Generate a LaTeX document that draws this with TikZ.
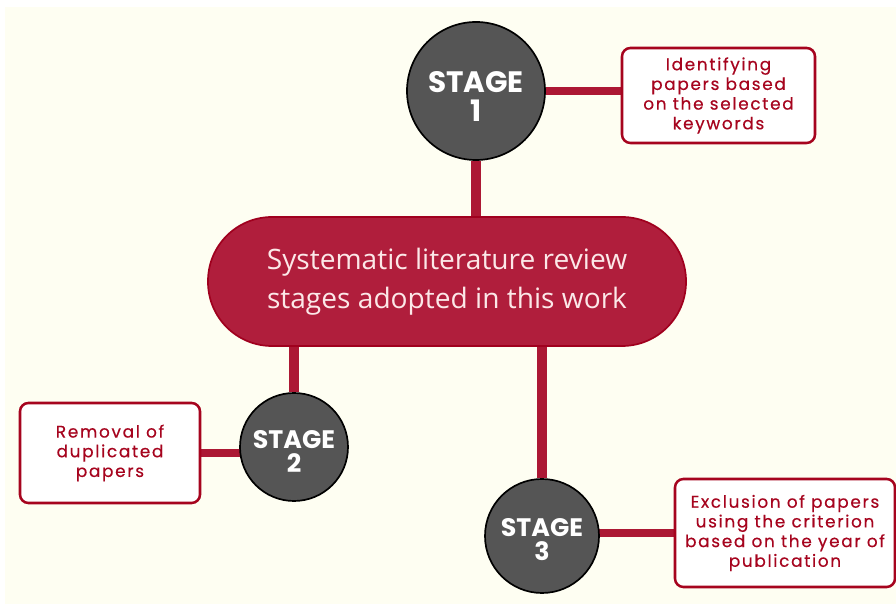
\documentclass[tikz,border=0pt]{standalone}
\usepackage{fontspec}
\setmainfont{Open Sans}
\newfontfamily\stagefont{Poppins}
\newfontfamily\boxfont{Poppins}[LetterSpace=10,FakeBold=0.4]
\usetikzlibrary{backgrounds}
\definecolor{cream}{RGB}{254,254,242}
\definecolor{pillred}{RGB}{176,30,60}
\definecolor{pilledge}{RGB}{160,0,30}
\definecolor{linkred}{RGB}{172,24,52}
\definecolor{boxred}{RGB}{166,4,30}
\definecolor{stagegray}{RGB}{85,85,85}
\definecolor{pilltext}{RGB}{252,232,232}
\newcommand{\stagelabel}[2]{\rule{0pt}{#1}STAGE\\#2}

\begin{document}
\begin{tikzpicture}[
    stage/.style={circle, draw=black, line width=1.2pt, fill=stagegray, text=white,
        font=\stagefont\bfseries\fontsize{18}{17}\selectfont, align=center, inner sep=0pt},
    stepbox/.style={draw=boxred, line width=1.8pt, fill=white, rounded corners=6pt,
        text=boxred, font=\boxfont\fontsize{12}{14}\selectfont, align=center},
    link/.style={draw=linkred, line width=5.7pt},
    trunk/.style={draw=linkred, line width=7pt}]
    \useasboundingbox (0,0) rectangle (22.4,15.1);

    \node[stage, minimum size=3.45cm, font=\stagefont\bfseries\fontsize{21}{21}\selectfont]
        (stage1) at (11.9,12.825) {\stagelabel{23pt}{1}};
    \node[stepbox, minimum width=4.825cm, minimum height=2.375cm] (keywords) at (17.9625,12.7125)
        {Identifying\\papers based\\on the selected\\keywords};
    \node[draw=pilledge, line width=1.2pt, fill=pillred, text=pilltext, rounded corners=1.6cm,
        minimum width=11.95cm, minimum height=3.225cm, align=center,
        font=\fontsize{20}{28}\selectfont] (review) at (11.175,8.0625)
        {Systematic literature review\\stages adopted in this work};
    \node[stage, minimum size=2.7cm] (stage2) at (7.35,3.925) {\stagelabel{19.5pt}{2}};
    \node[stepbox, minimum width=4.5cm, minimum height=2.5cm] (duplicates) at (2.75,3.775)
        {Removal of\\duplicated\\papers};
    \node[stage, minimum size=2.85cm] (stage3) at (13.55,1.7) {\stagelabel{18.5pt}{3}};
    \node[stepbox, minimum width=5.5cm, minimum height=2.7cm] (year) at (19.625,1.775)
        {Exclusion of papers\\using the criterion\\based on the year of\\publication};

    \begin{scope}[on background layer]
        \fill[white] (0,0) rectangle (22.4,15.1);
        \fill[cream] (0.125,0) rectangle (22.4,14.925);
        \draw[link] (stage1) -- (stage1 -| keywords.west);
        \draw[trunk] (stage1) -- (stage1 |- review.north);
        \draw[trunk] (review.south -| stage2) -- (stage2);
        \draw[link] (duplicates.east) -- (duplicates -| stage2);
        \draw[trunk] (review.south -| stage3) -- (stage3);
        \draw[link] (year.west) -- (year -| stage3);
    \end{scope}
\end{tikzpicture}
\end{document}
